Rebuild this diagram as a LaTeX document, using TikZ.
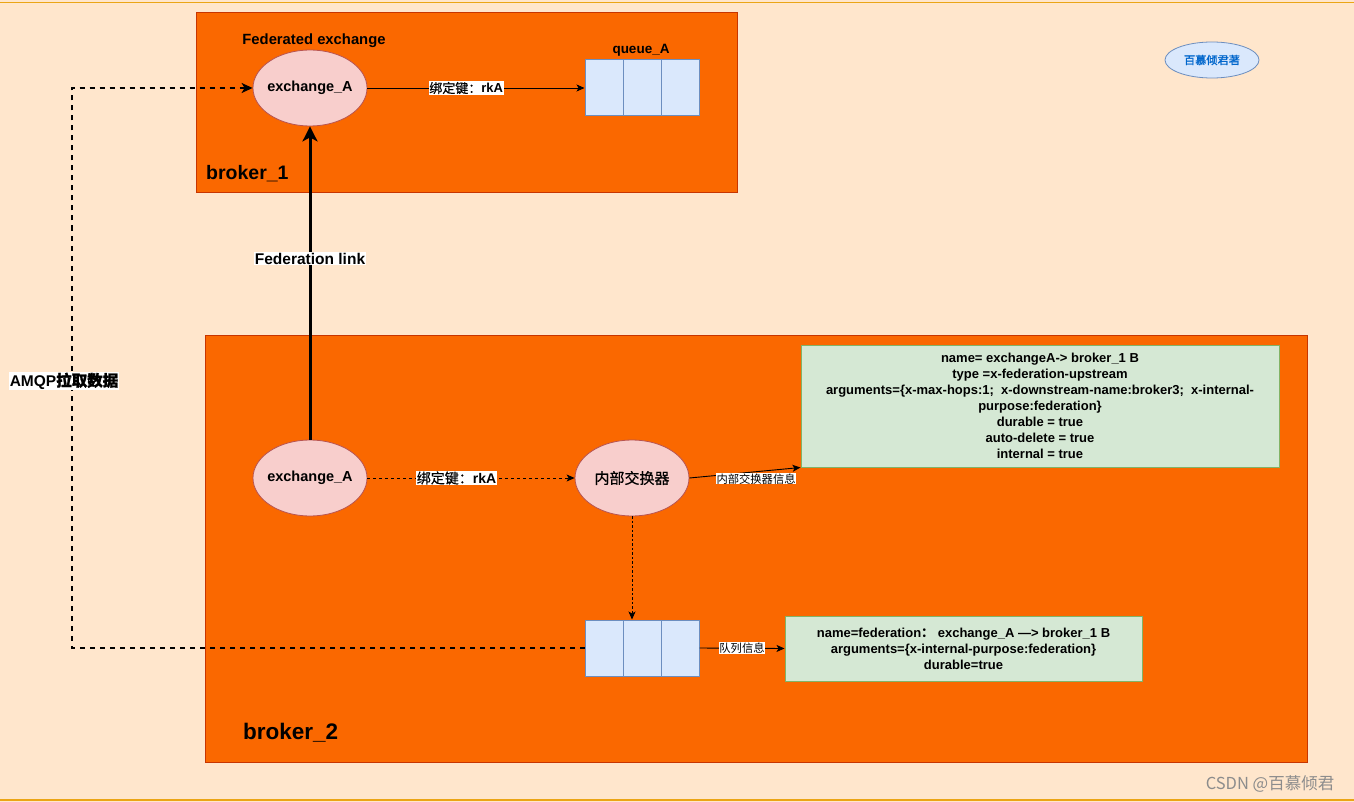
\documentclass[tikz,border=0pt]{standalone}
\usepackage{fontspec}
\setmainfont{Liberation Sans}
\newfontfamily\cjk{Noto Sans CJK SC}
\newfontfamily\cjkb[FakeBold=1.5]{Noto Sans CJK SC}
\newfontfamily\cjkm[FakeBold=0.6]{Noto Sans CJK SC}
\usetikzlibrary{arrows.meta,shapes.geometric}
\definecolor{bgc}{HTML}{FFE6CC}
\definecolor{orf}{HTML}{FA6800}
\definecolor{ord}{HTML}{C73500}
\definecolor{elf}{HTML}{F8CECC}
\definecolor{eld}{HTML}{B85450}
\definecolor{quf}{HTML}{DAE8FC}
\definecolor{qud}{HTML}{6C8EBF}
\definecolor{grf}{HTML}{D5E8D4}
\definecolor{grd}{HTML}{82B366}
\definecolor{gold}{HTML}{EBA515}
\definecolor{wmblue}{HTML}{0066CC}
\tikzset{
  broker/.style={draw=ord, fill=orf, line width=0.8pt, rectangle, anchor=north west, inner sep=0pt},
  ell/.style={ellipse, draw=eld, fill=elf, line width=0.8pt, minimum width=114pt, minimum height=76pt, inner xsep=-25pt, inner ysep=0pt, font=\fontsize{14.5}{16}\selectfont\bfseries},
  queuebox/.style={rectangle, draw=qud, fill=quf, line width=1pt, minimum width=114pt, minimum height=56pt, inner sep=0pt},
  gbox/.style={rectangle, draw=grd, fill=grf, line width=1pt, inner sep=0pt, align=center, font=\fontsize{13}{16}\selectfont\bfseries},
  lbl/.style={fill=white, inner sep=0.5pt},
  arr/.style={-{Stealth[length=8pt,width=7pt,inset=2pt]}, line width=0.9pt, black},
  bigarr/.style={-{Stealth[length=15pt,width=15pt,inset=4pt]}, line width=3pt, black},
  dsh/.style={arr, dash pattern=on 3pt off 3pt},
  dot/.style={arr, dash pattern=on 2.5pt off 2pt},
  amqp/.style={-{Stealth[length=11pt,width=10pt,inset=3pt]}, line width=1.6pt, dash pattern=on 5pt off 5pt, black}
}
\begin{document}
\begin{tikzpicture}[x=1pt,y=-1pt]
\useasboundingbox (0,0) rectangle (1354,802);
\fill[bgc] (0,0) rectangle (1354,802);
\draw[gold, line width=1.5pt] (0,2.5) -- (1354,2.5);
\draw[gold, line width=1.5pt] (0,800) -- (1354,800);

% brokers
\node[broker, minimum width=541pt, minimum height=180pt] (b1) at (196,12) {};
\node[broker, minimum width=1102pt, minimum height=427pt] (b2) at (205,335) {};
\node[font=\fontsize{19.5}{22}\selectfont\bfseries, anchor=west, inner sep=0pt] (b1l) at (206,174) {broker\_1};
\node[font=\fontsize{22.5}{25}\selectfont\bfseries, anchor=west, inner sep=0pt] (b2l) at (243,733) {broker\_2};

% broker_1 content
\node[font=\fontsize{14.8}{16}\selectfont\bfseries] (fe) at (314,41) {Federated exchange};
\node[ell] (ea) at (310,88) {exchange\_A};
\node[font=\fontsize{13.5}{15}\selectfont\bfseries] (qal) at (641,50) {queue\_A};
\node[queuebox] (qa) at (642,88) {};
\draw[qud, line width=1pt] ([xshift=-19pt]qa.north) -- ([xshift=-19pt]qa.south);
\draw[qud, line width=1pt] ([xshift=19pt]qa.north) -- ([xshift=19pt]qa.south);
\draw[arr] (ea.east) -- node[lbl, pos=0.455, font=\fontsize{13}{15}\selectfont]{{\cjkm 绑定键：}\textbf{rkA}} (qa.west);

% broker_2 content
\node[ell] (eb) at (310,478) {exchange\_A};
\node[ell, font=\fontsize{15}{17}\selectfont\cjkm] (ix) at (632,478) {内部交换器};
\draw[dsh] (eb.east) -- node[lbl, pos=0.43, font=\fontsize{14}{16}\selectfont]{{\cjkm 绑定键：}\textbf{rkA}} (ix.west);

\node[gbox, minimum width=478pt, minimum height=122pt] (g1) at (1040,406)
 {name= exchangeA-> broker\_1 B\\
  type =x-federation-upstream\\
  arguments=\{x-max-hops:1;\ \ x-downstream-name:broker3;\ \ x-internal-\\
  purpose:federation\}\\
  durable = true\\
  auto-delete = true\\
  internal = true};
\draw[arr] (ix.east) -- node[lbl, pos=0.6, yshift=-7pt, font=\fontsize{11.3}{13}\selectfont\cjk]{内部交换器信息} (g1.south west);

\node[queuebox] (qb) at (642,648) {};
\draw[qud, line width=1pt] ([xshift=-19pt]qb.north) -- ([xshift=-19pt]qb.south);
\draw[qud, line width=1pt] ([xshift=19pt]qb.north) -- ([xshift=19pt]qb.south);
\draw[dot] (ix.south) -- (ix.south |- qb.north);

\node[gbox, minimum width=357pt, minimum height=65pt] (g2) at (963.5,648.5)
 {name=federation{\cjk ：}\ exchange\_A —> broker\_1 B\\
  arguments=\{x-internal-purpose:federation\}\\
  durable=true};
\draw[arr] (qb.east) -- node[lbl, font=\fontsize{11.3}{13}\selectfont\cjk]{队列信息} (g2.west);

% federation link
\draw[bigarr] (eb.north) -- node[lbl, pos=0.578, font=\fontsize{15.5}{17}\selectfont\bfseries]{Federation link} (ea.south);

% AMQP pull
\coordinate (c1) at (72,648);
\coordinate (c2) at (72,88);
\draw[amqp] (qb.west) -- (c1) -- (c2) -- (ea.west);
\node[lbl, font=\fontsize{15.5}{17}\selectfont\bfseries] (al) at (64,381) {AMQP{\cjkb 拉取数据}};

% watermark ellipse
\node[ellipse, draw=qud, fill=quf, line width=0.8pt, minimum width=94pt, minimum height=36pt, inner sep=0pt, text=wmblue, font=\fontsize{11.2}{13}\selectfont\cjkb] (wm) at (1212,60) {百慕倾君著};

% csdn watermark
\node[text=black!45, font=\fontsize{16.5}{18}\selectfont\cjk] (csdn) at (1270,784) {CSDN @百慕倾君};
\end{tikzpicture}
\end{document}
